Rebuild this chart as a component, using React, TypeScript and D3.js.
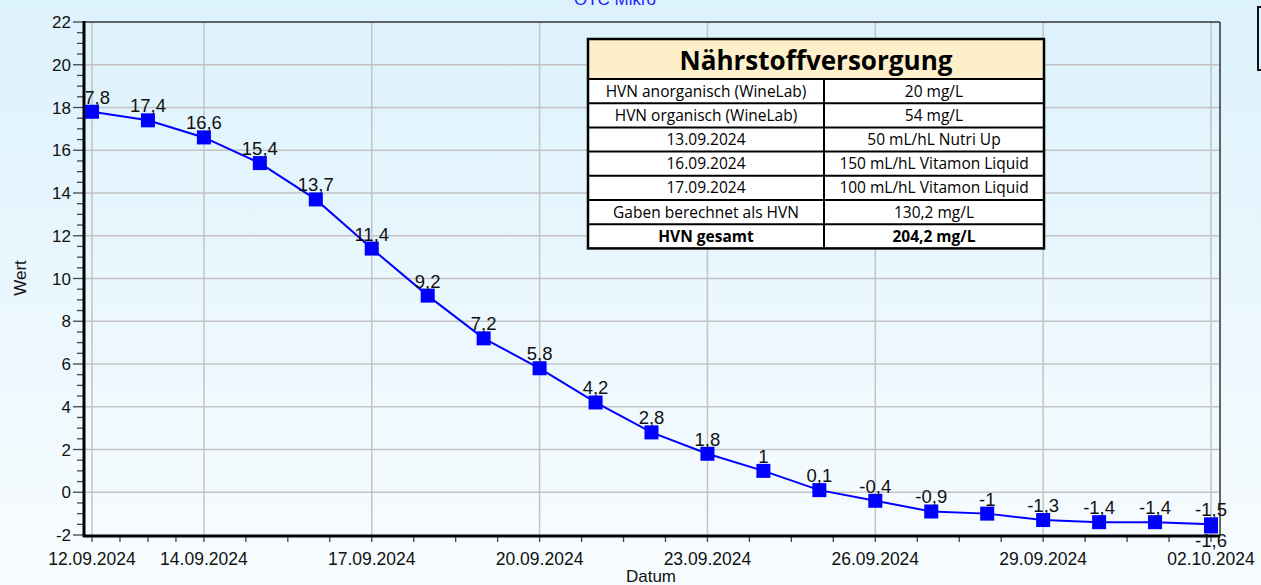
import React, { useEffect, useRef } from 'react';
import * as d3 from 'd3';

// Messwerte (Datum, Wert)
const dates = [
  '2024-09-12', '2024-09-13', '2024-09-14', '2024-09-15', '2024-09-16', '2024-09-17',
  '2024-09-18', '2024-09-19', '2024-09-20', '2024-09-21', '2024-09-22', '2024-09-23',
  '2024-09-24', '2024-09-25', '2024-09-26', '2024-09-27', '2024-09-28', '2024-09-29',
  '2024-09-30', '2024-10-01', '2024-10-02', '2024-10-02',
];
const values = [
  17.8, 17.4, 16.6, 15.4, 13.7, 11.4, 9.2, 7.2, 5.8, 4.2, 2.8, 1.8, 1, 0.1,
  -0.4, -0.9, -1, -1.3, -1.4, -1.4, -1.5, -1.6,
];
const xTickDates = [
  '2024-09-12', '2024-09-14', '2024-09-17', '2024-09-20',
  '2024-09-23', '2024-09-26', '2024-09-29', '2024-10-02',
];
const yTicks = [-2, 0, 2, 4, 6, 8, 10, 12, 14, 16, 18, 20, 22];

// Tabelle Nährstoffversorgung
const tableTitle = 'Nährstoffversorgung';
const tableLabels = [
  'HVN anorganisch (WineLab)',
  'HVN organisch (WineLab)',
  '13.09.2024',
  '16.09.2024',
  '17.09.2024',
  'Gaben berechnet als HVN',
  'HVN gesamt',
];
const tableValues = [
  '20 mg/L',
  '54 mg/L',
  '50 mL/hL Nutri Up',
  '150 mL/hL Vitamon Liquid',
  '100 mL/hL Vitamon Liquid',
  '130,2 mg/L',
  '204,2 mg/L',
];

const W = 1261;
const H = 585;
const FONT = '"Liberation Sans", Arial, sans-serif';
const TFONT = '"Open Sans", "Noto Sans", sans-serif';

const fmt = (v: number) => String(v).replace('.', ',');

export default function App() {
  const ref = useRef<SVGSVGElement>(null);

  useEffect(() => {
    const svg = d3.select(ref.current);
    svg.selectAll('*').remove();

    const parse = d3.utcParse('%Y-%m-%d');
    const pts = dates.map((d, i) => ({ date: parse(d) as Date, value: values[i] }));
    const ticks = xTickDates.map(d => parse(d) as Date);

    const plot = { left: 84, right: 1220, top: 22, bottom: 535 };

    const x = d3.scaleUtc()
      .domain([ticks[0], ticks[ticks.length - 1]])
      .range([92, 1211]);
    const y = d3.scaleLinear().domain([-2, 22]).range([plot.bottom, plot.top]);

    const defs = svg.append('defs');
    const grad = defs.append('linearGradient')
      .attr('id', 'bg').attr('x1', 0).attr('y1', 0).attr('x2', 0).attr('y2', 1);
    grad.append('stop').attr('offset', '0%').attr('stop-color', '#dcf2fc');
    grad.append('stop').attr('offset', '100%').attr('stop-color', '#f8fcff');
    defs.append('clipPath').attr('id', 'lblclip')
      .append('rect').attr('x', plot.left + 2).attr('y', 0).attr('width', W).attr('height', H);

    svg.append('rect').attr('width', W).attr('height', H).attr('fill', 'url(#bg)');

    // Titel (oben abgeschnitten)
    svg.append('text')
      .attr('x', 615).attr('y', 5)
      .attr('text-anchor', 'middle')
      .attr('font-family', FONT).attr('font-size', 17)
      .attr('fill', '#1f1fff')
      .text('OTC Mikro');

    // Legendenrahmen rechts (abgeschnitten)
    svg.append('rect')
      .attr('x', 1258).attr('y', 7).attr('width', 30).attr('height', 63)
      .attr('fill', 'none').attr('stroke', '#111').attr('stroke-width', 2);

    // Gitter
    const grid = svg.append('g').attr('stroke', '#c3c3c3').attr('stroke-width', 1.5);
    grid.selectAll('.gy').data(yTicks.filter(t => t > -2 && t < 22)).enter()
      .append('line')
      .attr('x1', plot.left).attr('x2', plot.right)
      .attr('y1', d => y(d)).attr('y2', d => y(d));
    grid.selectAll('.gx').data(ticks).enter()
      .append('line')
      .attr('x1', d => x(d)).attr('x2', d => x(d))
      .attr('y1', plot.top).attr('y2', plot.bottom);

    // Rahmen oben / rechts
    svg.append('line').attr('x1', plot.left).attr('x2', plot.right)
      .attr('y1', plot.top).attr('y2', plot.top).attr('stroke', '#333').attr('stroke-width', 1.5);
    svg.append('line').attr('x1', plot.right).attr('x2', plot.right)
      .attr('y1', plot.top).attr('y2', plot.bottom).attr('stroke', '#333').attr('stroke-width', 1.5);

    // Y-Achse
    const yMinor = d3.range(-2, 22.01, 0.5);
    const ya = svg.append('g');
    ya.selectAll('line').data(yMinor).enter().append('line')
      .attr('x1', d => (Number.isInteger(d / 2) ? plot.left - 11 : plot.left - 7))
      .attr('x2', plot.left)
      .attr('y1', d => y(d)).attr('y2', d => y(d))
      .attr('stroke', '#444').attr('stroke-width', 1.3);
    ya.selectAll('text').data(yTicks).enter().append('text')
      .attr('x', 71).attr('y', d => y(d))
      .attr('dy', '0.36em')
      .attr('text-anchor', 'end')
      .attr('font-family', FONT).attr('font-size', 17).attr('fill', '#111')
      .text(d => fmt(d));

    // X-Achse
    const xMinor: Date[] = [];
    for (let i = 0; i < ticks.length - 1; i++) {
      const a = ticks[i].getTime();
      const b = ticks[i + 1].getTime();
      for (let k = 0; k < 4; k++) xMinor.push(new Date(a + ((b - a) * k) / 4));
    }
    xMinor.push(ticks[ticks.length - 1]);
    const xa = svg.append('g');
    xa.selectAll('line').data(xMinor).enter().append('line')
      .attr('x1', d => x(d)).attr('x2', d => x(d))
      .attr('y1', plot.bottom).attr('y2', plot.bottom + 7)
      .attr('stroke', '#444').attr('stroke-width', 1.3);
    xa.selectAll('text').data(ticks).enter().append('text')
      .attr('x', d => x(d)).attr('y', 565)
      .attr('text-anchor', 'middle')
      .attr('font-family', FONT).attr('font-size', 17.5).attr('fill', '#111')
      .text(d => d3.utcFormat('%d.%m.%Y')(d));

    // Achslinien
    svg.append('line').attr('x1', plot.left).attr('x2', plot.left)
      .attr('y1', plot.top - 1).attr('y2', plot.bottom + 2)
      .attr('stroke', '#000').attr('stroke-width', 3);
    svg.append('line').attr('x1', plot.left - 1).attr('x2', plot.right)
      .attr('y1', plot.bottom + 1).attr('y2', plot.bottom + 1)
      .attr('stroke', '#000').attr('stroke-width', 3);

    // Achsentitel
    svg.append('text')
      .attr('x', 651).attr('y', 582)
      .attr('text-anchor', 'middle')
      .attr('font-family', FONT).attr('font-size', 17).attr('fill', '#111')
      .text('Datum');
    svg.append('text')
      .attr('transform', 'translate(26,278) rotate(-90)')
      .attr('text-anchor', 'middle')
      .attr('font-family', FONT).attr('font-size', 17).attr('fill', '#111')
      .text('Wert');

    // Linie + Marker
    const line = d3.line<{ date: Date; value: number }>()
      .x(d => x(d.date))
      .y(d => y(d.value));
    svg.append('path')
      .datum(pts)
      .attr('fill', 'none')
      .attr('stroke', '#0000ff')
      .attr('stroke-width', 2)
      .attr('d', line);
    svg.selectAll('.dot').data(pts).enter().append('rect')
      .attr('x', d => x(d.date) - 7).attr('y', d => y(d.value) - 7)
      .attr('width', 14).attr('height', 14)
      .attr('fill', '#0000ff');

    // Werte-Beschriftung
    svg.append('g').attr('clip-path', 'url(#lblclip)')
      .selectAll('text').data(pts).enter().append('text')
      .attr('x', d => x(d.date))
      .attr('y', (d, i) => (i === pts.length - 1 ? y(d.value) + 21 : y(d.value) - 8))
      .attr('text-anchor', 'middle')
      .attr('font-family', FONT).attr('font-size', 18.5).attr('fill', '#111')
      .text(d => fmt(d.value));

    // Tabelle
    const tb = { left: 588, right: 1044, top: 39, head: 79, mid: 824, row: 24.2 };
    const tg = svg.append('g');
    const bottom = tb.head + tb.row * tableLabels.length;
    tg.append('rect').attr('x', tb.left).attr('y', tb.top)
      .attr('width', tb.right - tb.left).attr('height', tb.head - tb.top)
      .attr('fill', '#fdefca');
    tg.append('rect').attr('x', tb.left).attr('y', tb.head)
      .attr('width', tb.right - tb.left).attr('height', bottom - tb.head)
      .attr('fill', '#fff');
    tg.append('text')
      .attr('x', (tb.left + tb.right) / 2).attr('y', 70)
      .attr('text-anchor', 'middle')
      .attr('font-family', TFONT).attr('font-size', 26).attr('font-weight', 'bold')
      .attr('textLength', 273).attr('lengthAdjust', 'spacingAndGlyphs')
      .attr('fill', '#000')
      .text(tableTitle);
    tableLabels.forEach((lbl, i) => {
      const cy = tb.head + tb.row * (i + 0.5);
      const bold = i === tableLabels.length - 1 ? 'bold' : 'normal';
      tg.append('text')
        .attr('x', (tb.left + tb.mid) / 2).attr('y', cy).attr('dy', '0.35em')
        .attr('text-anchor', 'middle')
        .attr('font-family', TFONT).attr('font-size', 15.5).attr('font-weight', bold)
        .attr('fill', '#000').text(lbl);
      tg.append('text')
        .attr('x', (tb.mid + tb.right) / 2).attr('y', cy).attr('dy', '0.35em')
        .attr('text-anchor', 'middle')
        .attr('font-family', TFONT).attr('font-size', 15.5).attr('font-weight', bold)
        .attr('fill', '#000').text(tableValues[i]);
      tg.append('line')
        .attr('x1', tb.left).attr('x2', tb.right)
        .attr('y1', tb.head + tb.row * i).attr('y2', tb.head + tb.row * i)
        .attr('stroke', '#000').attr('stroke-width', 2);
    });
    tg.append('line')
      .attr('x1', tb.mid).attr('x2', tb.mid)
      .attr('y1', tb.head).attr('y2', bottom)
      .attr('stroke', '#000').attr('stroke-width', 2);
    tg.append('rect').attr('x', tb.left).attr('y', tb.top)
      .attr('width', tb.right - tb.left).attr('height', bottom - tb.top)
      .attr('fill', 'none').attr('stroke', '#000').attr('stroke-width', 2.5);
  }, []);

  return (
    <svg
      ref={ref}
      width={W}
      height={H}
      style={{ position: 'absolute', left: 0, top: 0, display: 'block' }}
    />
  );
}
